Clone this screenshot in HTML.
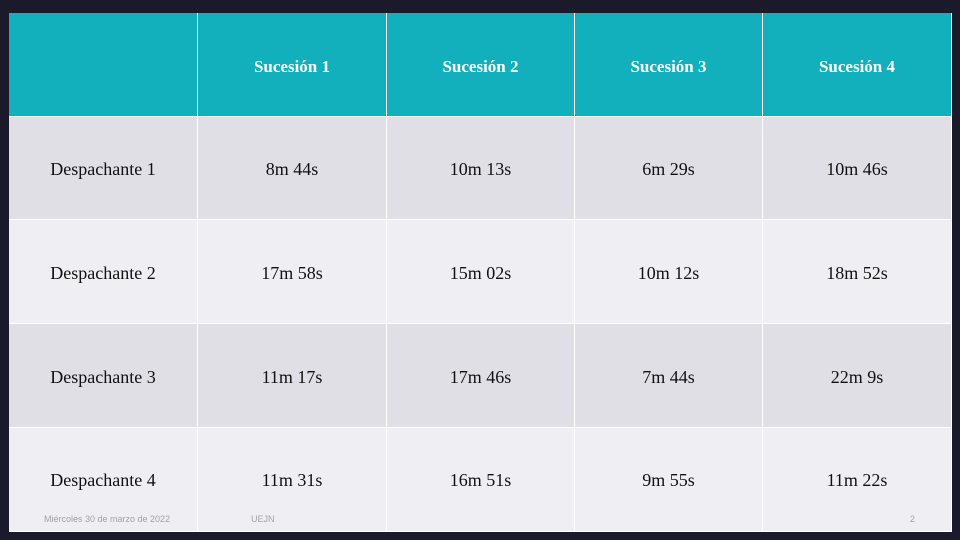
<!DOCTYPE html>
<html><head><meta charset="utf-8"><style>
body{margin:0;width:960px;height:540px;background:#1b1a2b;overflow:hidden;position:relative;font-family:"Liberation Serif",serif}
.c{position:absolute;display:flex;align-items:center;justify-content:center;font-size:18px;color:#111;box-sizing:border-box;border-right:1px solid #fff;border-bottom:1px solid #fff;padding-top:3px}
.h{background:#12b0bd;color:#fff;font-weight:bold;font-size:17px;padding-top:5px}
.a{background:#dfdfe5}.b{background:#efeff3}
.f{position:absolute;top:514px;font-family:"Liberation Sans",sans-serif;font-size:9px;color:#a0a0a8}
</style></head><body>
<div id="t"></div>
<div class="f" style="left:44px">Miércoles 30 de marzo de 2022</div>
<div class="f" style="left:251px">UEJN</div>
<div class="f" style="left:910px">2</div>
<script>
const xs=[9,198,387,575,763,952], ys=[13,117,220,324,428,532];
const cols=["","Sucesión 1","Sucesión 2","Sucesión 3","Sucesión 4"];
const rows=[["Despachante 1","8m 44s","10m 13s","6m 29s","10m 46s"],
["Despachante 2","17m 58s","15m 02s","10m 12s","18m 52s"],
["Despachante 3","11m 17s","17m 46s","7m 44s","22m 9s"],
["Despachante 4","11m 31s","16m 51s","9m 55s","11m 22s"]];
const t=document.getElementById('t');
const all=[cols,...rows];
all.forEach((r,i)=>r.forEach((v,j)=>{
const d=document.createElement('div');
d.className='c '+(i==0?'h':(i%2?'a':'b'));
d.style.left=xs[j]+'px';d.style.top=ys[i]+'px';
d.style.width=(xs[j+1]-xs[j])+'px';d.style.height=(ys[i+1]-ys[i])+'px';
if(i==4){d.style.alignItems='flex-start';d.style.paddingTop='42px';}
d.textContent=v;


t.appendChild(d);}));
</script>
</body></html>
